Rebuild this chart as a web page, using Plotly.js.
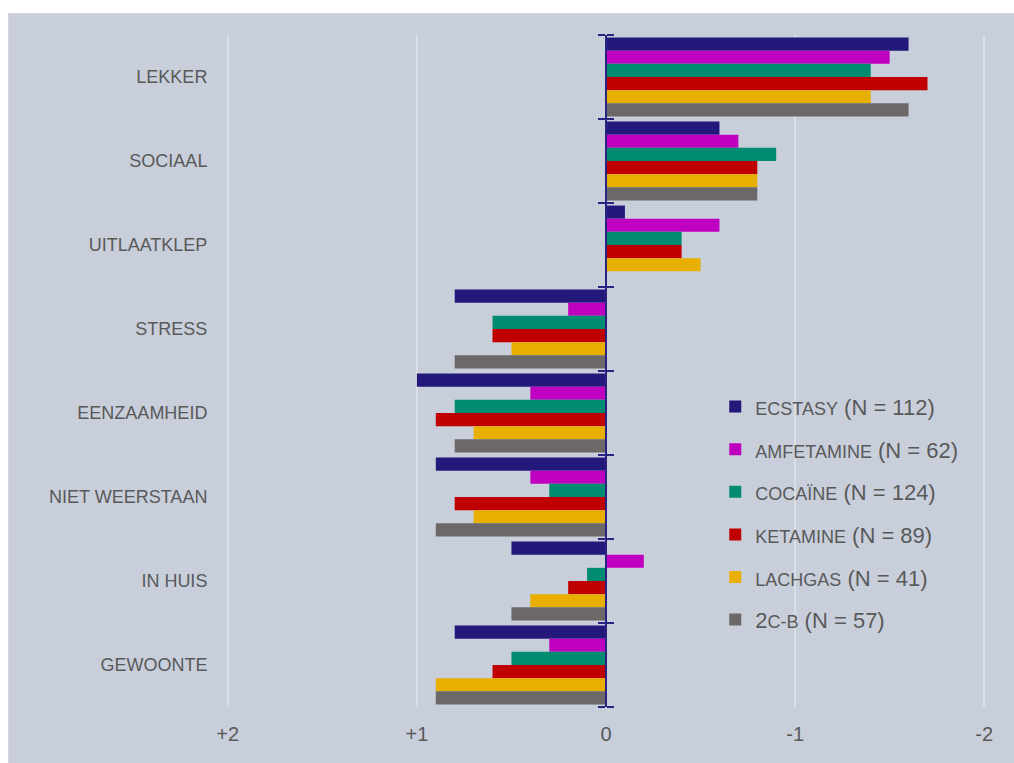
<!DOCTYPE html>
<html>
<head>
<meta charset="utf-8">
<script src="https://cdn.plot.ly/plotly-3.0.1.min.js"></script>
<style>
html,body{margin:0;padding:0;background:#ffffff;}
#chart{position:absolute;left:8px;top:13px;width:1006px;height:750px;border-top:1px solid #d9d9d9;border-left:1px solid #d9d9d9;box-sizing:border-box;}
</style>
</head>
<body>
<div id="chart"></div>
<script>
const categories = ["LEKKER","SOCIAAL","UITLAATKLEP","STRESS","EENZAAMHEID","NIET WEERSTAAN","IN HUIS","GEWOONTE"];
const seriesNames = [
  '<span style="font-size:18px">ECSTASY</span> (N = 112)',
  '<span style="font-size:18px">AMFETAMINE</span> (N = 62)',
  '<span style="font-size:18px">COCAÏNE</span> (N = 124)',
  '<span style="font-size:18px">KETAMINE</span> (N = 89)',
  '<span style="font-size:18px">LACHGAS</span> (N = 41)',
  '2<span style="font-size:18px">C-B</span> (N = 57)'
];
const ecstasy    = [-1.6, -0.6, -0.1, 0.8, 1.0, 0.9, 0.5, 0.8];
const amfetamine = [-1.5, -0.7, -0.6, 0.2, 0.4, 0.4, -0.2, 0.3];
const cocaine    = [-1.4, -0.9, -0.4, 0.6, 0.8, 0.3, 0.1, 0.5];
const ketamine   = [-1.7, -0.8, -0.4, 0.6, 0.9, 0.8, 0.2, 0.6];
const lachgas    = [-1.4, -0.8, -0.5, 0.5, 0.7, 0.7, 0.4, 0.9];
const twoCB      = [-1.6, -0.8, 0, 0.8, 0.8, 0.9, 0.5, 0.9];
const colors = ["#23197a","#c000c0","#008c70","#c00000","#e8ae00","#6c6868"];
const xTickVals = [2, 1, 0, -1, -2];
const xTickText = ["+2", "+1", "0", "-1", "-2"];
const boundaries = [-0.5, 0.5, 1.5, 2.5, 3.5, 4.5, 5.5, 6.5, 7.5];

const allSeries = [ecstasy, amfetamine, cocaine, ketamine, lachgas, twoCB];
const traces = allSeries.map((vals, i) => ({
  type: 'bar',
  orientation: 'h',
  x: vals,
  y: categories,
  name: seriesNames[i],
  legendgroup: 'g' + i,
  marker: {color: colors[i], line: {width: 0}},
  hoverinfo: 'x+y'
}));
traces.push({type:'scatter', x:[], y:[], yaxis:'y2', showlegend:false, hoverinfo:'skip'});
traces.push({type:'scatter', x:[], y:[], yaxis:'y3', showlegend:false, hoverinfo:'skip'});

const axisColor = '#2a2480';
const layout = {
  width: 1006, height: 750,
  margin: {l: 215, r: 27, t: 21, b: 57},
  paper_bgcolor: '#c8cfdb',
  plot_bgcolor: '#c8cfdb',
  font: {family: '"Liberation Sans", Arial, sans-serif', color: '#595959'},
  barmode: 'group',
  bargap: 0.06,
  bargroupgap: 0,
  showlegend: true,
  legend: {
    x: 0.643, y: 0.478, xanchor: 'left', yanchor: 'top',
    bgcolor: 'rgba(0,0,0,0)',
    font: {size: 22, color: '#595959'},
    traceorder: 'grouped',
    tracegroupgap: 11,
    itemwidth: 30
  },
  xaxis: {
    range: [2.02, -2.02],
    tickvals: xTickVals,
    ticktext: xTickText,
    tickfont: {size: 20, color: '#595959'},
    showgrid: true,
    gridcolor: '#dadee5',
    gridwidth: 2,
    zeroline: false,
    showline: false,
    ticks: 'outside',
    ticklen: 9,
    tickcolor: 'rgba(0,0,0,0)',
    fixedrange: true
  },
  yaxis: {
    type: 'category',
    categoryorder: 'array',
    categoryarray: categories,
    autorange: 'reversed',
    tickfont: {size: 18, color: '#595959'},
    ticks: 'outside',
    ticklen: 12,
    tickcolor: 'rgba(0,0,0,0)',
    showgrid: false,
    zeroline: false,
    showline: false,
    fixedrange: true
  },
  yaxis2: {
    overlaying: 'y', anchor: 'free', position: 0.5, side: 'left',
    range: [7.5, -0.5],
    tickvals: boundaries,
    showticklabels: false,
    ticks: 'outside', ticklen: 7, tickwidth: 2, tickcolor: axisColor,
    showline: true, linecolor: axisColor, linewidth: 2,
    showgrid: false, zeroline: false, fixedrange: true
  },
  yaxis3: {
    overlaying: 'y', anchor: 'free', position: 0.5, side: 'right',
    range: [7.5, -0.5],
    tickvals: boundaries,
    showticklabels: false,
    ticks: 'outside', ticklen: 7, tickwidth: 2, tickcolor: axisColor,
    showline: true, linecolor: axisColor, linewidth: 2,
    showgrid: false, zeroline: false, fixedrange: true
  }
};
Plotly.newPlot('chart', traces, layout, {displayModeBar: false, staticPlot: true});
</script>
</body>
</html>
